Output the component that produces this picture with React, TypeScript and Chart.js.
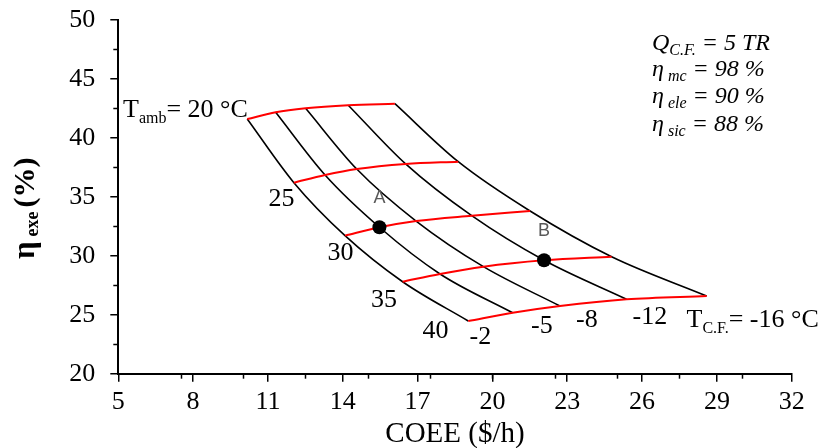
import React, { useEffect, useRef } from "react";
import { Chart, registerables } from "chart.js";

Chart.register(...registerables);

// Ambient temperatures (red curves) and cold-fluid temperatures (black curves)
const T_AMB = [20, 25, 30, 35, 40];
const T_CF = [-2, -5, -8, -12, -16];

// COEE ($/h) and exergy efficiency (%) for each T_amb, ordered by T_CF = -2, -5, -8, -12, -16
const COEE_T20 = [10.17, 11.31, 12.51, 14.22, 16.09];
const ETA_T20 = [41.6, 42.17, 42.51, 42.77, 42.9];
const COEE_T25 = [12.04, 13.29, 14.56, 16.52, 18.63];
const ETA_T25 = [36.2, 36.85, 37.36, 37.79, 37.98];
const COEE_T30 = [14.09, 15.47, 16.94, 19.17, 21.51];
const ETA_T30 = [31.71, 32.42, 32.95, 33.4, 33.8];
const COEE_T35 = [16.4, 17.9, 19.64, 22.07, 24.78];
const ETA_T35 = [27.8, 28.46, 29.08, 29.62, 29.92];
const COEE_T40 = [19.03, 20.81, 22.71, 25.38, 28.59];
const ETA_T40 = [24.47, 25.17, 25.74, 26.31, 26.59];

// Marked design points
const POINT_LABELS = ["A", "B"];
const POINT_COEE = [15.47, 22.07];
const POINT_ETA = [32.42, 29.62];

// Axes
const X_MIN = 5;
const X_MAX = 32;
const X_STEP = 3;
const X_MINOR_STEP = 2.5;
const Y_MIN = 20;
const Y_MAX = 50;
const Y_STEP = 5;
const Y_MINOR_STEP = 2.5;
const X_TITLE = "COEE ($/h)";

const SERIF = '"Liberation Serif", "Times New Roman", serif';
const SANS = '"Liberation Sans", "Open Sans", Arial, sans-serif';

type Run = { t: string; f: string; dy?: number; gap?: number };

function drawRuns(ctx: CanvasRenderingContext2D, x: number, y: number, runs: Run[]) {
  let cx = x;
  for (const r of runs) {
    cx += r.gap || 0;
    ctx.font = r.f;
    ctx.fillText(r.t, cx, y + (r.dy || 0));
    cx += ctx.measureText(r.t).width;
  }
}

const annotationPlugin = {
  id: "annotations",
  afterDraw(chart: any) {
    const ctx: CanvasRenderingContext2D = chart.ctx;
    const xs = chart.scales.x;
    const ys = chart.scales.y;
    const area = chart.chartArea;
    ctx.save();
    ctx.strokeStyle = "#000";
    ctx.lineWidth = 1.5;
    // minor ticks
    for (let v = X_MIN + X_MINOR_STEP; v < X_MAX; v += X_MINOR_STEP) {
      const px = Math.round(xs.getPixelForValue(v)) + 0.5;
      ctx.beginPath();
      ctx.moveTo(px, area.bottom);
      ctx.lineTo(px, area.bottom + 5);
      ctx.stroke();
    }
    for (let v = Y_MIN + Y_MINOR_STEP; v < Y_MAX; v += Y_MINOR_STEP) {
      if (Math.abs((v - Y_MIN) % Y_STEP) < 1e-6) continue;
      const py = Math.round(ys.getPixelForValue(v)) + 0.5;
      ctx.beginPath();
      ctx.moveTo(area.left - 5, py);
      ctx.lineTo(area.left, py);
      ctx.stroke();
    }

    ctx.fillStyle = "#000";
    ctx.textBaseline = "alphabetic";
    ctx.textAlign = "left";

    // x title
    ctx.font = `29px ${SERIF}`;
    ctx.textAlign = "center";
    ctx.fillText(X_TITLE, (area.left + area.right) / 2, 441.5);
    ctx.textAlign = "left";

    // y title (rotated)
    ctx.save();
    ctx.translate(34, 259);
    ctx.rotate(-Math.PI / 2);
    drawRuns(ctx, 0, 0, [
      { t: "η", f: `bold 31px ${SERIF}` },
      { t: "exe", f: `bold 18px ${SERIF}`, dy: 4, gap: 5 },
      { t: "(%)", f: `bold 30px ${SERIF}`, gap: 4 },
    ]);
    ctx.restore();

    // curve labels
    drawRuns(ctx, 123, 117, [
      { t: "T", f: `26px ${SERIF}` },
      { t: "amb", f: `16px ${SERIF}`, dy: 6 },
      { t: "= 20 °C", f: `26px ${SERIF}` },
    ]);
    ctx.font = `26px ${SERIF}`;
    const ambLabels: [string, number, number][] = [
      [String(T_AMB[1]), 268.5, 206],
      [String(T_AMB[2]), 327.5, 260],
      [String(T_AMB[3]), 371, 306.5],
      [String(T_AMB[4]), 422.5, 338],
    ];
    for (const [t, x, y] of ambLabels) ctx.fillText(t, x, y);
    const cfLabels: [string, number, number][] = [
      [String(T_CF[0]), 469.5, 344],
      [String(T_CF[1]), 531, 333],
      [String(T_CF[2]), 576, 326.5],
      [String(T_CF[3]), 632.5, 324],
    ];
    for (const [t, x, y] of cfLabels) ctx.fillText(t, x, y);
    drawRuns(ctx, 686.5, 327, [
      { t: "T", f: `26px ${SERIF}` },
      { t: "C.F.", f: `16px ${SERIF}`, dy: 5.5 },
      { t: "= -16 °C", f: `26px ${SERIF}` },
    ]);

    // parameter box
    const it = `italic 24px ${SERIF}`;
    const itSub = `italic 16px ${SERIF}`;
    drawRuns(ctx, 652, 49.5, [
      { t: "Q", f: it },
      { t: "C.F.", f: itSub, dy: 5 },
      { t: " = 5 TR", f: it },
    ]);
    drawRuns(ctx, 652, 76, [
      { t: "η", f: it },
      { t: " mc", f: itSub, dy: 5 },
      { t: " = 98 %", f: it },
    ]);
    drawRuns(ctx, 652, 103, [
      { t: "η", f: it },
      { t: " ele", f: itSub, dy: 5 },
      { t: " = 90 %", f: it },
    ]);
    drawRuns(ctx, 652, 130.5, [
      { t: "η", f: it },
      { t: " sic", f: itSub, dy: 5 },
      { t: " = 88 %", f: it },
    ]);

    // point labels
    ctx.fillStyle = "#595959";
    ctx.font = `18px ${SANS}`;
    ctx.textAlign = "center";
    for (let i = 0; i < POINT_LABELS.length; i++) {
      const px = xs.getPixelForValue(POINT_COEE[i]);
      const py = ys.getPixelForValue(POINT_ETA[i]);
      ctx.fillText(POINT_LABELS[i], px, py - 24);
    }
    ctx.restore();
  },
};

export default function App() {
  const ref = useRef<HTMLCanvasElement | null>(null);

  useEffect(() => {
    if (!ref.current) return;
    const coeeRows = [COEE_T20, COEE_T25, COEE_T30, COEE_T35, COEE_T40];
    const etaRows = [ETA_T20, ETA_T25, ETA_T30, ETA_T35, ETA_T40];

    const blackSets = T_CF.map((t, j) => ({
      label: `T_CF = ${t} °C`,
      data: T_AMB.map((_, i) => ({ x: coeeRows[i][j], y: etaRows[i][j] })),
      showLine: true,
      borderColor: "#000",
      borderWidth: 1.6,
      pointRadius: 0,
      cubicInterpolationMode: "monotone" as const,
      order: 3,
    }));
    const redSets = T_AMB.map((t, i) => ({
      label: `T_amb = ${t} °C`,
      data: T_CF.map((_, j) => ({ x: coeeRows[i][j], y: etaRows[i][j] })),
      showLine: true,
      borderColor: "#FF0000",
      borderWidth: 2,
      pointRadius: 0,
      cubicInterpolationMode: "monotone" as const,
      order: 2,
    }));
    const pointSet = {
      label: "points",
      data: POINT_COEE.map((x, i) => ({ x, y: POINT_ETA[i] })),
      showLine: false,
      pointRadius: 7,
      pointBackgroundColor: "#000",
      pointBorderColor: "#000",
      borderWidth: 0,
      order: 1,
    };

    const chart = new Chart(ref.current, {
      type: "scatter",
      data: { datasets: [...blackSets, ...redSets, pointSet] as any },
      options: {
        animation: false,
        responsive: false,
        devicePixelRatio: 1,
        layout: { padding: { top: 20, right: 35.3, left: 0, bottom: 0 } },
        plugins: { legend: { display: false }, tooltip: { enabled: false } },
        scales: {
          x: {
            type: "linear",
            min: X_MIN,
            max: X_MAX,
            afterFit: (s: any) => {
              s.height = 74.3;
              s.paddingLeft = 0;
              s.paddingRight = 0;
            },
            ticks: {
              stepSize: X_STEP,
              autoSkip: false,
              maxRotation: 0,
              padding: 5,
              color: "#000",
              font: { family: SERIF, size: 26 },
            },
            grid: {
              drawOnChartArea: false,
              drawTicks: true,
              tickLength: 8,
              color: "#000",
              lineWidth: 1.5,
            },
            border: { display: true, color: "#000", width: 2 },
          },
          y: {
            type: "linear",
            min: Y_MIN,
            max: Y_MAX,
            afterFit: (s: any) => {
              s.width = 118.3;
              s.paddingTop = 0;
              s.paddingBottom = 0;
            },
            ticks: {
              stepSize: Y_STEP,
              padding: 15,
              color: "#000",
              font: { family: SERIF, size: 26 },
            },
            grid: {
              drawOnChartArea: false,
              drawTicks: true,
              tickLength: 8,
              color: "#000",
              lineWidth: 1.5,
            },
            border: { display: true, color: "#000", width: 2 },
          },
        },
      },
      plugins: [annotationPlugin],
    });
    return () => chart.destroy();
  }, []);

  return (
    <div style={{ position: "absolute", left: 0, top: 0, width: 827, height: 448, background: "#fff" }}>
      <canvas ref={ref} width={827} height={448} />
    </div>
  );
}
